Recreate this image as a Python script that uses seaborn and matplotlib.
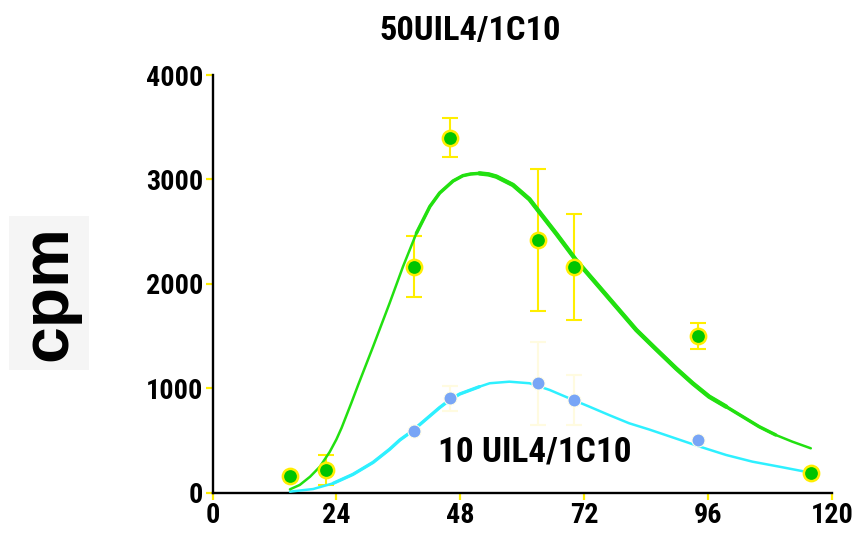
import numpy as np
import pandas as pd
import matplotlib
matplotlib.use("Agg")
import matplotlib.pyplot as plt
import seaborn as sns
from matplotlib import font_manager

# ---------------- data ----------------
time_hi = [15, 22, 39, 46, 63, 70, 94, 116]
cpm_hi = [160, 218, 2165, 3400, 2420, 2160, 1500, 192]
sem_hi = [0, 145, 295, 190, 683, 511, 125, 0]

time_lo = [39, 46, 63, 70, 94]
cpm_lo = [594, 904, 1048, 888, 505]
sem_lo = [0, 120, 398, 238, 0]

fit_hi_x = [15.0, 16.9, 18.9, 20.8, 22.7, 24.0, 25.0, 26.9, 28.2, 31.1, 34.3, 36.9,
            39.5, 42.1, 44.0, 46.6, 48.5, 50.0, 51.7, 53.5, 55.0, 58.2, 61.4, 63.0,
            66.6, 70.4, 74.3, 78.2, 82.1, 85.9, 89.8, 93.0, 96.2, 99.5, 102.7, 105.9,
            109.1, 112.3, 115.9]
fit_hi_y = [32, 74, 153, 249, 390, 510, 620, 860, 1030, 1398, 1814, 2165,
            2485, 2740, 2870, 2985, 3036, 3052, 3058, 3048, 3027, 2947, 2810, 2708,
            2480, 2229, 2006, 1782, 1558, 1375, 1190, 1048, 920, 824, 728, 632,
            553, 489, 425]

fit_lo_x = [15.0, 19.5, 23.4, 27.2, 31.1, 34.3, 36.3, 38.8, 40.1, 44.0, 46.0, 47.9,
            51.7, 53.7, 57.5, 61.4, 65.3, 69.1, 73.0, 76.8, 80.7, 84.6, 88.5, 94.4,
            99.5, 104.6, 109.8, 116.0]
fit_lo_y = [10, 35, 90, 175, 290, 415, 505, 594, 650, 815, 890, 945,
            1015, 1048, 1063, 1048, 984, 904, 824, 744, 665, 605, 540, 441,
            361, 297, 249, 190]

x_ticks = [0, 24, 48, 72, 96, 120]
y_ticks = [0, 1000, 2000, 3000, 4000]
title_text = "50UIL4/1C10"
label_lo = "10 UIL4/1C10"
y_label = "cpm"

# ---------------- fonts ----------------
sns.set_theme(style="white")
fl = font_manager.fontManager.ttflist


def has_static_bold(name):
    return any(f.name == name and f.weight in (700, "bold") and f.style == "normal"
               and "[" not in f.fname for f in fl)


cands = ["Liberation Sans Narrow", "Arial Narrow", "Roboto Condensed",
         "Barlow Semi Condensed", "Asap Condensed", "PT Sans Narrow", "Barlow Condensed"]
narrow = next((c for c in cands if has_static_bold(c)), "Liberation Sans")
plt.rcParams["font.family"] = [narrow, "DejaVu Sans"]

GREEN_LINE = "#22e010"
GREEN_DOT = "#00c400"
YELLOW = "#ffee00"
CYAN = "#2ef0ff"
BLUE_DOT = "#78a5f6"
PALE = "#fffbe0"

fig = plt.figure(figsize=(8.6, 5.35), dpi=100)
ax = fig.add_axes([0.2471, 0.0791, 0.7203, 0.7807])

hi = pd.DataFrame({"t": time_hi, "cpm": cpm_hi, "sem": sem_hi})
lo = pd.DataFrame({"t": time_lo, "cpm": cpm_lo, "sem": sem_lo})
fhi = pd.DataFrame({"t": fit_hi_x, "cpm": fit_hi_y})
flo = pd.DataFrame({"t": fit_lo_x, "cpm": fit_lo_y})

m = lo["sem"] > 0
ax.errorbar(lo.loc[m, "t"], lo.loc[m, "cpm"], yerr=lo.loc[m, "sem"], fmt="none",
            ecolor=PALE, elinewidth=1.5, capsize=6, capthick=1.5, zorder=1)
m = hi["sem"] > 0
ax.errorbar(hi.loc[m, "t"], hi.loc[m, "cpm"], yerr=hi.loc[m, "sem"], fmt="none",
            ecolor=YELLOW, elinewidth=1.5, capsize=6, capthick=1.5, zorder=2)

line_kw = dict(sort=False, estimator=None, solid_capstyle="round", solid_joinstyle="round")
sns.lineplot(data=flo, x="t", y="cpm", ax=ax, color=CYAN, lw=1.8, zorder=3, **line_kw)
sub = flo[(flo.t >= 20) & (flo.t <= 52)]
sns.lineplot(data=sub, x="t", y="cpm", ax=ax, color=CYAN, lw=2.4, zorder=3, **line_kw)

sns.lineplot(data=fhi, x="t", y="cpm", ax=ax, color=GREEN_LINE, lw=1.8, zorder=4, **line_kw)
sub = fhi[(fhi.t >= 39) & (fhi.t <= 110)]
sns.lineplot(data=sub, x="t", y="cpm", ax=ax, color=GREEN_LINE, lw=2.5, zorder=4, **line_kw)
sub = fhi[(fhi.t >= 51) & (fhi.t <= 100)]
sns.lineplot(data=sub, x="t", y="cpm", ax=ax, color=GREEN_LINE, lw=3.2, zorder=4, **line_kw)

sns.scatterplot(data=lo, x="t", y="cpm", ax=ax, color=BLUE_DOT, s=88,
                edgecolor="#fffde8", linewidth=0.8, zorder=5)
sns.scatterplot(data=hi, x="t", y="cpm", ax=ax, color=GREEN_DOT, s=121,
                edgecolor=YELLOW, linewidth=1.8, zorder=6)

ann = ax.text(62.4, 385, label_lo, ha="center", va="center", fontsize=24,
              fontweight="bold", color="black", zorder=7)

ax.set_xlim(0, 120)
ax.set_ylim(0, 4000)
ax.set_xticks(x_ticks)
ax.set_yticks(y_ticks)
ax.set_xticklabels([str(v) for v in x_ticks])
ax.set_yticklabels([str(v) for v in y_ticks])
for lab in ax.get_xticklabels() + ax.get_yticklabels():
    lab.set_fontweight("bold")
ax.tick_params(axis="both", direction="out", length=5, width=1.6, color=YELLOW,
               labelsize=22, labelcolor="black", pad=1.5, left=True, bottom=True)
ax.set_xlabel("")
ax.set_ylabel("")
for side in ["top", "right"]:
    ax.spines[side].set_visible(False)
for side in ["left", "bottom"]:
    ax.spines[side].set_color("black")
    ax.spines[side].set_linewidth(1.7)
ax.grid(False)

ttl = fig.text(469.7 / 860, 1 - 31 / 535, title_text, ha="center", va="center",
               fontsize=24, fontweight="bold", color="black")

fig.text(49 / 860, 1 - 293 / 535, y_label, rotation=90, ha="center", va="center",
         fontsize=47.5, fontweight="bold", color="black",
         family=["Liberation Sans", "DejaVu Sans"],
         bbox=dict(boxstyle="square,pad=0.14", fc="#f5f5f5", ec="none"))

# fit text widths to those measured on the reference
renderer = fig.canvas.get_renderer()


def fit(t, target):
    w = t.get_window_extent(renderer).width
    t.set_fontsize(t.get_fontsize() * target / w)


fit(ttl, 182)
fit(ann, 194)
fig.canvas.draw()
lab4000 = [l for l in ax.get_yticklabels() if l.get_text() == "4000"][0]
w = lab4000.get_window_extent(renderer).width
ax.tick_params(labelsize=22 * 57 / w)
for lab in ax.get_xticklabels() + ax.get_yticklabels():
    lab.set_fontweight("bold")

fig.savefig("out.png", dpi=100)
